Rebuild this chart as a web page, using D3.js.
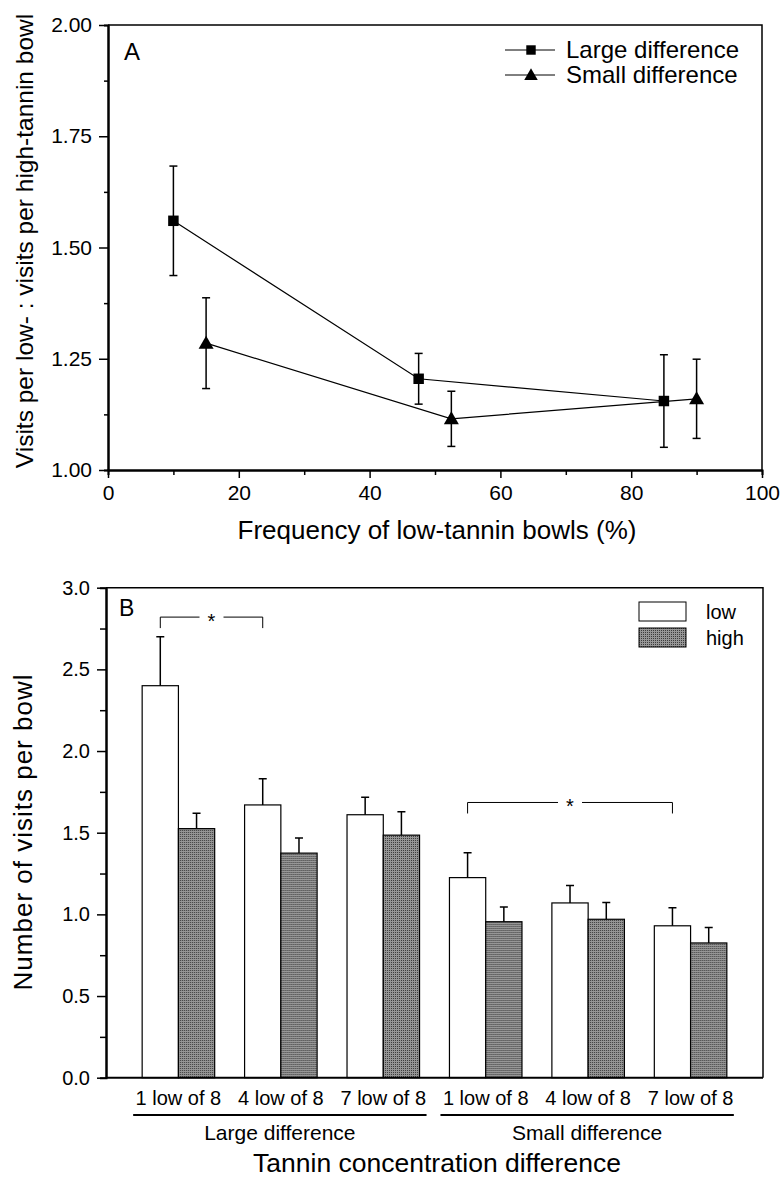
<!DOCTYPE html>
<html>
<head>
<meta charset="utf-8">
<script src="https://cdn.jsdelivr.net/npm/d3@7"></script>
<style>
  body { margin: 0; background: #fff; }
  svg { display: block; font-family: "Liberation Sans", Arial, sans-serif; }
</style>
</head>
<body>
<script>
// size of the whole figure
var width = 782,
    height = 1177;

// ---- panel A data (ratio of visits, mean +/- se) ----
var freqLarge = [10, 47.5, 85];
var ratioLarge = [1.56, 1.205, 1.155];
var errLarge = [0.123, 0.057, 0.104];

var freqSmall = [15, 52.5, 90];
var ratioSmall = [1.285, 1.115, 1.16];
var errSmall = [0.102, 0.062, 0.089];

var seriesNamesA = ['Large difference', 'Small difference'];
var xTicksA = [0, 20, 40, 60, 80, 100];
var yTicksA = [1.00, 1.25, 1.50, 1.75, 2.00];

// ---- panel B data (visits per bowl, mean + se) ----
var treatments = ['1 low of 8', '4 low of 8', '7 low of 8', '1 low of 8', '4 low of 8', '7 low of 8'];
var groups = ['Large difference', 'Small difference'];
var groupOf = [0, 0, 0, 1, 1, 1];
var lowVisits = [2.40, 1.67, 1.61, 1.225, 1.07, 0.93];
var lowErr = [0.30, 0.16, 0.107, 0.153, 0.107, 0.11];
var highVisits = [1.525, 1.375, 1.485, 0.955, 0.97, 0.825];
var highErr = [0.094, 0.093, 0.143, 0.09, 0.102, 0.094];
var yTicksB = [0, 0.5, 1.0, 1.5, 2.0, 2.5, 3.0];

// significant differences between low bars (index pairs and bracket height)
var sigFrom = [0, 3];
var sigTo = [1, 5];
var sigLevel = [2.82, 1.685];

var svg = d3.select('body')
  .append('svg')
  .attr('width', width)
  .attr('height', height);

// stippled grey used for the high-tannin bars
var pat = svg.append('defs').append('pattern')
  .attr('id', 'stipple')
  .attr('width', 2)
  .attr('height', 2)
  .attr('patternUnits', 'userSpaceOnUse');
pat.append('rect').attr('width', 2).attr('height', 2).attr('fill', '#969696');
pat.append('rect').attr('width', 1).attr('height', 1).attr('fill', '#3c3c3c');

// =================== PANEL A ===================
var xA = d3.scaleLinear().domain([0, 100]).range([108, 762]);
var yA = d3.scaleLinear().domain([1, 2]).range([470, 25]);

var gA = svg.append('g');

// frame (top + right)
gA.append('path')
  .attr('d', 'M' + xA(0) + ',' + yA(2) + 'H' + xA(100) + 'V' + yA(1))
  .attr('fill', 'none')
  .attr('stroke', '#000')
  .attr('stroke-width', 1.5);

// minor ticks first, then major axes on top
gA.append('g')
  .attr('transform', 'translate(0,' + yA(1) + ')')
  .call(d3.axisBottom(xA).tickValues([10, 30, 50, 70, 90]).tickSize(5).tickFormat(''))
  .call(styleAxis);
gA.append('g')
  .attr('transform', 'translate(' + xA(0) + ',0)')
  .call(d3.axisLeft(yA).tickValues([1.125, 1.375, 1.625, 1.875]).tickSize(4).tickFormat(''))
  .call(styleAxis);

gA.append('g')
  .attr('transform', 'translate(0,' + yA(1) + ')')
  .call(d3.axisBottom(xA).tickValues(xTicksA).tickSize(8).tickSizeOuter(0).tickPadding(7))
  .call(styleAxis);
gA.append('g')
  .attr('transform', 'translate(' + xA(0) + ',0)')
  .call(d3.axisLeft(yA).tickValues(yTicksA).tickFormat(d3.format('.2f')).tickSize(9).tickSizeOuter(0).tickPadding(7))
  .call(styleAxis);

// build point objects for both series
var ptsLarge = freqLarge.map(function(f, i) { return { x: f, y: ratioLarge[i], e: errLarge[i] }; });
var ptsSmall = freqSmall.map(function(f, i) { return { x: f, y: ratioSmall[i], e: errSmall[i] }; });

var line = d3.line()
  .x(function(d) { return xA(d.x); })
  .y(function(d) { return yA(d.y); });

[ptsLarge, ptsSmall].forEach(function(pts, s) {
  gA.append('path')
    .datum(pts)
    .attr('d', line)
    .attr('fill', 'none')
    .attr('stroke', '#000')
    .attr('stroke-width', 1.2);

  // error bars, both directions
  var eb = gA.selectAll('.eb' + s)
    .data(pts)
    .enter().append('g');
  eb.append('line')
    .attr('x1', function(d) { return xA(d.x); })
    .attr('x2', function(d) { return xA(d.x); })
    .attr('y1', function(d) { return yA(d.y - d.e); })
    .attr('y2', function(d) { return yA(d.y + d.e); });
  eb.append('line')
    .attr('x1', function(d) { return xA(d.x) - 4; })
    .attr('x2', function(d) { return xA(d.x) + 4; })
    .attr('y1', function(d) { return yA(d.y + d.e); })
    .attr('y2', function(d) { return yA(d.y + d.e); });
  eb.append('line')
    .attr('x1', function(d) { return xA(d.x) - 4; })
    .attr('x2', function(d) { return xA(d.x) + 4; })
    .attr('y1', function(d) { return yA(d.y - d.e); })
    .attr('y2', function(d) { return yA(d.y - d.e); });
  eb.selectAll('line').attr('stroke', '#000').attr('stroke-width', 1.5);

  // markers
  gA.selectAll('.mk' + s)
    .data(pts)
    .enter().append('path')
    .attr('transform', function(d) { return 'translate(' + xA(d.x) + ',' + yA(d.y) + ')'; })
    .attr('d', marker(s, 1))
    .attr('fill', '#000');
});

function marker(s, k) {
  // square for large, triangle for small
  if (s === 0) return d3.symbol().type(d3.symbolSquare).size(110 * k * k)();
  return 'M0,' + (-7.5 * k) + 'L' + (7.5 * k) + ',' + (5.5 * k) + 'L' + (-7.5 * k) + ',' + (5.5 * k) + 'Z';
}

// legend A
var legA = gA.selectAll('.legA')
  .data(seriesNamesA)
  .enter().append('g')
  .attr('transform', function(d, i) { return 'translate(505,' + (50 + i * 25) + ')'; });
legA.append('line')
  .attr('x1', 0).attr('x2', 50)
  .attr('stroke', '#000')
  .attr('stroke-width', 1);
legA.append('path')
  .attr('transform', 'translate(26,0)')
  .attr('d', function(d, i) { return marker(i, 0.9); })
  .attr('fill', '#000');
legA.append('text')
  .attr('x', 61)
  .attr('dy', '0.33em')
  .attr('font-size', 24)
  .text(function(d) { return d; });

gA.append('text')
  .attr('x', 124).attr('y', 60)
  .attr('font-size', 24)
  .text('A');

gA.append('text')
  .attr('x', (xA(0) + xA(100)) / 2 + 2)
  .attr('y', 539)
  .attr('text-anchor', 'middle')
  .attr('font-size', 26)
  .text('Frequency of low-tannin bowls (%)');

gA.append('text')
  .attr('transform', 'translate(33,' + 241 + ') rotate(-90)')
  .attr('text-anchor', 'middle')
  .attr('font-size', 24.5)
  .text('Visits per low- : visits per high-tannin bowl');

// =================== PANEL B ===================
var xB = d3.scaleBand()
  .domain(d3.range(treatments.length))
  .range([106, 763])
  .paddingInner(0.292)
  .paddingOuter(0.353);
var yB = d3.scaleLinear().domain([0, 3]).range([1077.7, 587.7]);
var bw = xB.bandwidth() / 2;

var gB = svg.append('g');

gB.append('path')
  .attr('d', 'M106,' + yB(3) + 'H763V' + yB(0))
  .attr('fill', 'none')
  .attr('stroke', '#000')
  .attr('stroke-width', 1.5);

gB.append('g')
  .attr('transform', 'translate(106,0)')
  .call(d3.axisLeft(yB).tickValues([0.25, 0.75, 1.25, 1.75, 2.25, 2.75]).tickSize(6).tickFormat(''))
  .call(styleAxis);
gB.append('g')
  .attr('transform', 'translate(106,0)')
  .call(d3.axisLeft(yB).tickValues(yTicksB).tickFormat(d3.format('.1f')).tickSize(9).tickSizeOuter(0).tickPadding(7))
  .call(styleAxis)
  .selectAll('text').attr('font-size', 20);

// bars
var bars = gB.selectAll('.grp')
  .data(treatments)
  .enter().append('g')
  .attr('transform', function(d, i) { return 'translate(' + xB(i) + ',0)'; });

bars.append('rect')
  .attr('x', 0)
  .attr('width', bw)
  .attr('y', function(d, i) { return yB(lowVisits[i]); })
  .attr('height', function(d, i) { return yB(0) - yB(lowVisits[i]); })
  .attr('fill', '#fff');
bars.append('rect')
  .attr('x', bw)
  .attr('width', bw)
  .attr('y', function(d, i) { return yB(highVisits[i]); })
  .attr('height', function(d, i) { return yB(0) - yB(highVisits[i]); })
  .attr('fill', 'url(#stipple)');
bars.selectAll('rect').attr('stroke', '#000').attr('stroke-width', 1.2);

// upward error bars
[[lowVisits, lowErr, 0.5], [highVisits, highErr, 1.5]].forEach(function(set) {
  var vals = set[0], errs = set[1], cx = bw * set[2];
  bars.append('path')
    .attr('d', function(d, i) {
      var top = yB(vals[i] + errs[i]);
      return 'M' + cx + ',' + yB(vals[i]) + 'V' + top + 'M' + (cx - 4) + ',' + top + 'H' + (cx + 4);
    })
    .attr('fill', 'none')
    .attr('stroke', '#000')
    .attr('stroke-width', 1.5);
});

// x axis line with category labels
var xAxisB = gB.append('g')
  .attr('transform', 'translate(0,' + yB(0) + ')')
  .call(d3.axisBottom(xB).tickSize(0).tickPadding(13).tickFormat(function(i) { return treatments[i]; }))
  .call(styleAxis);
xAxisB.selectAll('text').attr('font-size', 20);
xAxisB.select('.domain').attr('d', 'M106,0H763');

// group underlines and names
groups.forEach(function(name, gi) {
  var idx = d3.range(treatments.length).filter(function(i) { return groupOf[i] === gi; });
  var x0 = xB(idx[0]) - 9,
      x1 = xB(idx[idx.length - 1]) + xB.bandwidth() + 7;
  gB.append('line')
    .attr('x1', x0).attr('x2', x1)
    .attr('y1', 1115).attr('y2', 1115)
    .attr('stroke', '#000')
    .attr('stroke-width', 2);
  gB.append('text')
    .attr('x', (x0 + x1) / 2)
    .attr('y', 1140)
    .attr('text-anchor', 'middle')
    .attr('font-size', 21)
    .text(name);
});

// significance brackets
sigFrom.forEach(function(a, k) {
  var xa = xB(a) + bw / 2,
      xb = xB(sigTo[k]) + bw / 2,
      y = yB(sigLevel[k]),
      xm = (xa + xb) / 2,
      gap = 12;
  gB.append('path')
    .attr('d', 'M' + xa + ',' + (y + 11) + 'V' + y + 'H' + (xm - gap) +
               'M' + (xm + gap) + ',' + y + 'H' + xb + 'V' + (y + 11))
    .attr('fill', 'none')
    .attr('stroke', '#000')
    .attr('stroke-width', 1);
  gB.append('text')
    .attr('x', xm)
    .attr('y', y + 11)
    .attr('text-anchor', 'middle')
    .attr('font-size', 20)
    .text('*');
});

// legend B
var legB = gB.selectAll('.legB')
  .data([{ name: 'low', fill: '#fff' }, { name: 'high', fill: 'url(#stipple)' }])
  .enter().append('g')
  .attr('transform', function(d, i) { return 'translate(639,' + (602 + i * 26) + ')'; });
legB.append('rect')
  .attr('width', 47)
  .attr('height', 19)
  .attr('fill', function(d) { return d.fill; })
  .attr('stroke', '#000')
  .attr('stroke-width', 1);
legB.append('text')
  .attr('x', 67)
  .attr('y', 9.5)
  .attr('dy', '0.35em')
  .attr('font-size', 20)
  .text(function(d) { return d.name; });

gB.append('text')
  .attr('x', 119).attr('y', 616)
  .attr('font-size', 23)
  .text('B');

gB.append('text')
  .attr('x', 437)
  .attr('y', 1172)
  .attr('text-anchor', 'middle')
  .attr('font-size', 26.5)
  .text('Tannin concentration difference');

gB.append('text')
  .attr('transform', 'translate(32,' + 832 + ') rotate(-90)')
  .attr('text-anchor', 'middle')
  .attr('font-size', 26)
  .attr('letter-spacing', 1)
  .text('Number of visits per bowl');

// common axis look
function styleAxis(g) {
  g.select('.domain').attr('stroke', '#000').attr('stroke-width', 2);
  g.selectAll('.tick line').attr('stroke', '#000').attr('stroke-width', 1.5);
  g.selectAll('.tick text')
    .attr('fill', '#000')
    .attr('font-size', 21)
    .attr('font-family', '"Liberation Sans", Arial, sans-serif');
}
</script>
</body>
</html>
